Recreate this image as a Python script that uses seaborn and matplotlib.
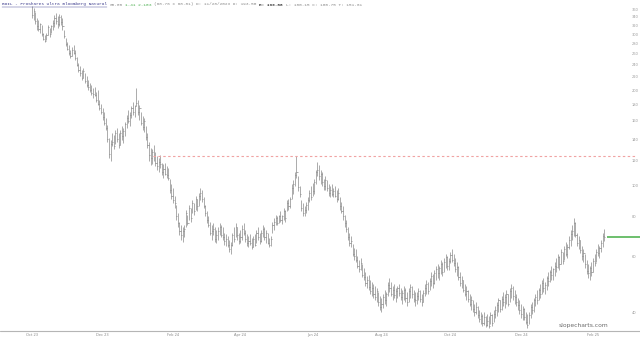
import numpy as np
import pandas as pd
import matplotlib
matplotlib.use("Agg")
import matplotlib.pyplot as plt
from matplotlib.lines import Line2D
import seaborn as sns

# ---------------- data (daily bars) ----------------
high = [
    367, 362, 352, 338, 332, 326, 320, 303, 298, 303, 320, 313, 320, 332, 345, 350, 343, 347, 345, 338, 309, 292,
    283, 277, 267, 273, 277, 267, 254, 243, 238, 231, 234, 227, 221, 215, 211, 207, 203, 205, 197, 200, 186, 181,
    175, 170, 163, 155, 141, 139, 147, 144, 150, 152, 146, 150, 154, 152, 159, 167, 173, 170, 178, 183, 180,
    203, 186, 180, 170, 166, 163, 154, 147, 137, 131, 130, 134, 128, 124, 122, 125, 118, 117, 118, 115, 114, 105, 101,
    98, 93, 87, 82, 77, 75, 74, 75, 84, 81, 87, 85, 90, 88, 93, 91, 95, 98, 97, 92, 87,
    83, 80, 77, 75, 76, 74, 72.5, 74, 76, 75, 74, 71, 70.5, 69.5, 67.5, 66.5, 71, 74, 76, 74, 71,
    72.5, 75, 76, 72.5, 70.5, 69.5, 70.5, 68.5, 69.5, 70.5, 72.5, 74, 71, 72.5, 75, 74, 72.5, 71, 68.5, 69.5, 77, 79,
    81, 80, 81, 83, 81, 85, 84, 90, 91, 92, 101, 104, 110, 124, 107, 100, 90, 88, 86, 89, 92, 97, 100,
    102, 105, 112, 119, 116, 112, 110, 105, 107, 104, 101, 100, 101, 98, 100, 97, 98, 92, 89, 86,
    81, 78, 74, 71, 69.5, 65.5, 63.5, 63, 60, 58.3, 59, 56.5, 55, 53.5, 52, 52.5, 50.4, 49.7, 49, 48.4, 47.6, 46.2, 44.8,
    44.2, 45.5, 46.9, 46.2, 49.7, 51.1, 49.7, 48.4, 49, 47.6, 48.4, 49, 47.6, 46.9, 48.4, 47.6, 46.2, 47.6, 49, 48.4, 46.9, 46.2,
    46.2, 47.6, 46.9, 45.5, 46.9, 49, 50.4, 49.7, 51.1, 53.5, 52.6, 54.3, 56, 56.5, 56, 58.3, 57.5, 59, 61, 60, 59,
    62, 63, 61, 59, 57.5, 56, 53.5, 52, 50.4, 49, 48.4, 46.9, 45.5, 44.8, 43.6, 42.4, 43, 41.8, 40.6, 40, 39.4, 40, 38.8,
    39.4, 38.8, 40, 39.4, 40.6, 41.8, 43, 44.2, 43.6, 44.8, 46.2, 45.5, 46.9, 45.5, 47.6, 49, 48.4, 46.9, 45.5, 44.2, 43.6,
    42.4, 41.8, 41.2, 40, 39.4, 40, 42.4, 43, 44.2, 45.5, 46.9, 47.6, 49, 50.4, 51.1, 49.7, 52, 53.5, 54.3, 56, 55, 57.5,
    59, 61, 60, 63, 62, 64.5, 66.5, 65.5, 69.5, 72.5, 75, 79, 77, 71, 69.5, 67.5, 64.5, 63, 61, 58.3, 56.5, 56, 57.5,
    59, 61, 63, 65.5, 64.5, 67.5, 71, 73,
]
low = [
    338, 332, 323, 309, 306, 303, 296, 287, 283, 287, 298, 294, 303, 309, 315, 323, 313, 318, 320, 309, 292, 275,
    267, 258, 253, 256, 260, 249, 238, 228, 222, 215, 218, 211, 205, 200, 197, 193, 189, 191, 183, 180, 173, 168,
    161, 155, 150, 137, 122, 120, 133, 130, 135, 137, 131, 134, 139, 136, 143, 152, 157, 154, 163, 167, 165,
    178, 167, 161, 155, 150, 148, 139, 131, 120, 116, 117, 120, 115, 112, 110, 114, 108, 106, 108, 106, 104, 95, 91,
    88, 85, 78, 74, 70, 67.5, 66.5, 69, 74, 75, 78, 77, 82, 81, 84, 83, 86, 90, 89, 85, 80,
    76, 74, 70, 67.5, 70, 66.5, 66, 67.5, 70, 69, 67.5, 65, 64.5, 64, 62, 61, 64.5, 66.5, 69, 67.5, 65.5,
    66, 67.5, 70, 66.5, 64.5, 64, 65, 63, 64, 64.5, 66, 67.5, 65.5, 66.5, 69, 67.5, 66, 65.5, 64, 64.5, 71, 72.5,
    75, 75, 76, 77, 75.5, 78, 77, 83, 84, 85, 91, 94, 100, 106, 96, 92, 83, 80, 80, 82, 84, 89, 90,
    93, 94, 101, 107, 104, 101, 100, 97, 97, 96, 93, 92, 93, 92, 92, 89, 90, 84, 82, 78,
    74, 71.5, 67.5, 64.5, 64, 60, 58.3, 57.5, 55, 53.5, 54.3, 51.5, 50.4, 48.3, 47.6, 46.9, 45.5, 44.8, 44.2, 43.6, 43, 41.8, 40.6,
    40, 41.2, 42.5, 41.8, 44.8, 46.2, 44.8, 43.6, 44.2, 43, 44.2, 44.8, 43.6, 42.5, 43.6, 43, 41.8, 43, 44.2, 44.2, 43, 41.8,
    42.5, 43.6, 43, 41.8, 43, 44.8, 45.5, 45.5, 46.9, 48.3, 47.6, 49, 50.4, 51.1, 50.4, 52.6, 51.8, 53.5, 55, 54.3, 54.3,
    57, 57.5, 56, 53.5, 51.8, 50.4, 48.3, 47.6, 46.2, 44.8, 43.6, 43, 41.8, 40.6, 40, 38.8, 39.4, 38.3, 37.2, 36.7, 36.1, 36.4, 35.8,
    36.1, 35.6, 36.7, 36.1, 37.2, 38.3, 38.8, 40, 40, 40.6, 41.8, 41.2, 42.5, 41.8, 43, 44.2, 43.6, 42.5, 41.8, 40.6, 39.4,
    38.3, 37.8, 37.8, 36.7, 35.6, 36.7, 38.3, 39.4, 40, 41.8, 42.5, 43.6, 44.2, 45.5, 46.2, 45.5, 46.9, 48.3, 49.7, 50.4, 50.4, 51.8,
    53.5, 55, 54.3, 56.5, 56.5, 58.3, 60, 59, 63, 64.5, 67.5, 69.5, 69, 64.5, 63, 61.5, 58.3, 57.5, 55, 52.6, 51.1, 50.4, 51.8,
    53.5, 56, 57.5, 60, 59, 62, 64, 67,
]
close = [
    345, 355, 330, 318, 312, 322, 300, 290, 286, 298, 315, 300, 318, 325, 338, 330, 322, 340, 328, 318, 296, 280,
    270, 262, 256, 268, 262, 252, 240, 232, 226, 218, 229, 214, 208, 205, 200, 196, 195, 193, 186, 181, 176, 170,
    164, 158, 152, 140, 126, 135, 137, 133, 146, 140, 134, 147, 143, 149, 156, 163, 160, 167, 175, 170, 178,
    182, 170, 175, 158, 153, 160, 142, 134, 125, 122, 128, 124, 118, 115, 119, 117, 110, 113, 109, 108, 106, 97, 93,
    90, 88, 80, 76, 72, 70, 72, 73, 82, 76, 85, 79, 88, 83, 91, 86, 93, 95, 91, 86, 82,
    78, 75, 71, 72, 73, 68, 70, 72, 74, 70, 69, 67, 68, 65, 63, 65, 70, 68, 74, 70, 67,
    69, 73, 71, 68, 66, 67, 66, 64, 68, 65, 71, 69, 67, 71, 73, 69, 71, 66, 65, 68, 75, 77,
    79, 76, 80, 78, 80, 83, 79, 88, 86, 91, 98, 101, 108, 110, 99, 94, 85, 82, 84, 87, 90, 95, 92,
    96, 103, 110, 112, 107, 109, 103, 100, 104, 98, 95, 97, 94, 96, 93, 91, 95, 86, 83, 80,
    76, 73, 69, 66, 67, 61, 60, 58.5, 56, 54.5, 57, 52.5, 51.5, 49.5, 50.5, 48, 46.5, 47.5, 45.5, 44.5, 46.5, 43, 41.5,
    42.5, 44.5, 43.5, 45.5, 48.5, 47.5, 45.5, 47, 45.2, 46.5, 47.5, 45.8, 44.5, 45.8, 47, 44.2, 43, 46.5, 47.8, 45.5, 44, 43.5,
    45, 46.5, 44, 43, 46, 47.5, 49, 46.5, 50, 52, 49.5, 53, 54.5, 53, 55, 56.5, 53.5, 57.5, 59.5, 56, 58,
    60.5, 58.5, 57, 54.5, 55.5, 51.5, 49.5, 50.5, 47, 45.5, 46.5, 44, 42.5, 43.5, 41, 40, 41.5, 39, 38, 38.8, 37, 38.5, 36.5,
    37.5, 36.2, 39, 37, 39.5, 40.5, 42, 43.5, 41, 44, 43, 44.5, 45.5, 42.5, 46.5, 47.5, 45, 44.5, 43, 42, 40.5,
    39.5, 41, 38.5, 37.2, 36.5, 39, 41.5, 40.5, 43.5, 44.5, 43.5, 47, 45.5, 49.5, 47.5, 48.5, 51, 50, 53.5, 52.5, 54.5, 56,
    55.5, 59.5, 56.5, 62, 58, 63, 61, 64, 67.5, 70.5, 72, 76, 70, 66, 67.5, 62.5, 60, 61.5, 56.5, 54, 53, 55, 53.5,
    58, 57, 62, 61.5, 63.5, 66, 69.5, 68.8,
]
start_date = "2023-10-02"
last_price = 68.80
level_price = 124.4
y_ticks = [40, 60, 80, 100, 120, 140, 160, 180, 200, 220, 240, 260, 280, 300, 320, 340, 360]
x_tick_labels = ["Oct 23", "Dec 23", "Feb 24", "Apr 24", "Jun 24", "Aug 24", "Oct 24", "Dec 24", "Feb 25"]

header_parts = [
    ("BOIL - ProShares Ultra Bloomberg Natural", "#3a3a8c", "normal"),
    ("68.80", "#8a8a8a", "normal"),
    ("1.41 2.10%", "#4caf50", "normal"),
    ("(68.76 x 68.81) D: 11/28/2023 O: 193.50", "#8a8a8a", "normal"),
    ("H: 199.88", "#333333", "bold"),
    ("L: 180.15 C: 180.75 T: 151.61", "#8a8a8a", "normal"),
]

# ---------------- frame ----------------
dates = pd.bdate_range(start_date, periods=len(close))
df = pd.DataFrame({"date": dates, "high": high, "low": low, "close": close})
df["i"] = np.arange(len(df))

sns.set_theme(style="white")
plt.rcParams["font.family"] = ["DejaVu Sans"]

W, H = 640, 341
fig = plt.figure(figsize=(W / 100, H / 100), dpi=100)
ax_left, ax_right, ax_top, ax_bottom = 0, 620, 0, 330
ax = fig.add_axes([ax_left / W, (H - ax_bottom) / H, (ax_right - ax_left) / W, (ax_bottom - ax_top) / H])
ax.set_facecolor("white")

px_per_bar = 1.603
x0_px = 32
ax.set_xlim((ax_left - x0_px) / px_per_bar, (ax_right - x0_px) / px_per_bar)

# log price scale: 40 at y=312px, 360 at y=9px
k = 303 / np.log(9)
def px_to_price(ypx):
    return 40 * np.exp((312 - ypx) / k)
ax.set_yscale("log")
ax.set_ylim(px_to_price(ax_bottom), px_to_price(ax_top))

bar_color = "#7c7c7c"
ax.vlines(df["i"], df["low"], df["high"], color=bar_color, lw=0.45)
ax.hlines(df["close"], df["i"], df["i"] + 0.7, color=bar_color, lw=0.45)

# resistance (dashed) and last price (green)
x_end = (W - 3 - x0_px) / px_per_bar
ax.plot([(153 - x0_px) / px_per_bar, x_end], [level_price, level_price],
        color="#f0a3a3", lw=0.8, dashes=(2.2, 2.2), clip_on=False)
ax.plot([(607 - x0_px) / px_per_bar, (W - x0_px) / px_per_bar], [last_price, last_price],
        color="#6cbf6c", lw=1.4, clip_on=False, solid_capstyle="butt")

# axes cosmetics
ax.yaxis.tick_right()
ax.set_yticks(y_ticks)
ax.set_yticklabels([str(v) for v in y_ticks])
ax.yaxis.set_minor_locator(matplotlib.ticker.NullLocator())
ax.tick_params(axis="y", which="both", length=0, labelsize=2.6, colors="#9a9a9a", pad=8.5)

month_first = df.groupby(df["date"].dt.to_period("M"))["i"].min()
tick_pos = []
for lab in x_tick_labels:
    per = pd.Period(pd.to_datetime(lab, format="%b %y"), freq="M")
    tick_pos.append(month_first[per])
ax.set_xticks(tick_pos)
ax.set_xticklabels(x_tick_labels)
ax.tick_params(axis="x", length=0, labelsize=2.6, colors="#8a8a8a", pad=2.5)
ax.grid(False)
sns.despine(ax=ax, left=True, right=True, top=True, bottom=True)

fig.add_artist(Line2D([0, 1], [(H - 330.5) / H] * 2, color="#b5b5b5", lw=0.8))

# header (monospace)
fs = 3.15
char_px = 0.6 * fs * 100 / 72
pos = 0
y_head = 1 - 4.5 / H
for text, col, wt in header_parts:
    t = fig.text((2 + pos * char_px) / W, y_head, text, color=col, fontsize=fs,
                 family="Liberation Mono", weight=wt, va="center", ha="left")
    if pos == 0:
        fig.add_artist(Line2D([2 / W, (2 + len(text) * char_px) / W], [1 - 7 / H] * 2,
                              color=col, lw=0.3))
    pos += len(text) + 1

fig.text(584 / W, 1 - 325.5 / H, "slopecharts.com", color="#6a6a6a", fontsize=4.3,
         ha="center", va="center", family="DejaVu Sans")

fig.savefig("out.png", dpi=100, facecolor="white")
